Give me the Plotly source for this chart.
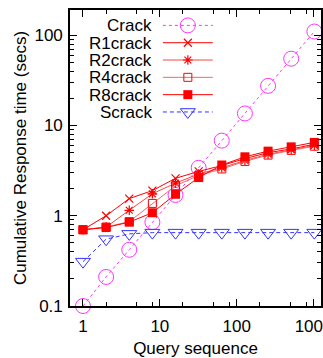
import plotly.graph_objects as go

# ---- data ----
queries = [1, 2, 4, 8, 16, 32, 64, 128, 256, 512, 1024]
crack = [0.1, 0.21, 0.42, 0.85, 1.7, 3.4, 6.8, 13.6, 27.5, 55, 110]
r1crack = [0.70, 1.0, 1.55, 1.9, 2.6, 3.1, 3.6, 4.3, 5.0, 5.5, 6.2]
r2crack = [0.70, 0.75, 1.15, 1.75, 2.3, 2.9, 3.4, 4.1, 4.8, 5.4, 6.0]
r4crack = [0.70, 0.75, 0.86, 1.37, 2.15, 2.8, 3.3, 4.0, 4.7, 5.3, 5.9]
r8crack = [0.70, 0.74, 0.85, 1.08, 1.73, 2.65, 3.65, 4.5, 5.2, 5.8, 6.5]
scrack = [0.31, 0.55, 0.63, 0.65, 0.65, 0.65, 0.65, 0.65, 0.65, 0.65, 0.65]

series_names = ["Crack", "R1crack", "R2crack", "R4crack", "R8crack", "Scrack"]
x_tick_vals = [1, 10, 100, 1000]
x_tick_text = ["1", "10", "100", "1000"]
y_tick_vals = [0.1, 1, 10, 100]
y_tick_text = ["0.1", "1", "10", "100"]
x_minor = [2, 5, 8, 20, 50, 80, 200, 500, 800]
y_minor = [0.2, 0.3, 0.4, 0.5, 0.6, 0.7, 0.8, 0.9,
           2, 3, 4, 5, 6, 7, 8, 9,
           20, 30, 40, 50, 60, 70, 80, 90]

FONT = "Liberation Sans, Arial, Helvetica, sans-serif"
MAG = "#ff33ff"
RED = "#ff0000"
RED2 = "#f04848"
RED4 = "#f06a6a"
BLUE = "#3333ff"

styles = [
    dict(line=dict(color=MAG, width=1, dash="dot"),
         marker=dict(symbol="circle-open", size=15, color=MAG, line=dict(width=1))),
    dict(line=dict(color=RED, width=1),
         marker=dict(symbol="x-thin-open", size=8, color=RED, line=dict(width=1.2, color=RED))),
    dict(line=dict(color=RED2, width=1),
         marker=dict(symbol="asterisk-open", size=8, color=RED, line=dict(width=1.2, color=RED))),
    dict(line=dict(color=RED4, width=1),
         marker=dict(symbol="square-open", size=8, color=RED, line=dict(width=1))),
    dict(line=dict(color=RED, width=1),
         marker=dict(symbol="square", size=9, color=RED, line=dict(width=0))),
    dict(line=dict(color=BLUE, width=1, dash="4px,3px"),
         marker=dict(symbol="triangle-down-open", size=13, color=BLUE, line=dict(width=1))),
]
series = [crack, r1crack, r2crack, r4crack, r8crack, scrack]

fig = go.Figure()
for name, ys, st in zip(series_names, series, styles):
    fig.add_trace(go.Scatter(x=queries, y=ys, mode="lines+markers", name=name,
                             line=st["line"], marker=st["marker"], showlegend=False,
                             xaxis="x", yaxis="y", cliponaxis=False))

# ---- custom legend (text left of sample, like gnuplot) ----
leg_text_x = 0.330
leg_line_x0, leg_line_x1 = 0.370, 0.569
leg_y0 = 0.948
leg_dy = 0.0585
annotations = []
for i, (name, st) in enumerate(zip(series_names, styles)):
    yy = leg_y0 - i * leg_dy
    fig.add_trace(go.Scatter(x=[leg_line_x0, leg_line_x1], y=[yy, yy], mode="lines",
                             line=st["line"], showlegend=False, hoverinfo="skip",
                             xaxis="x2", yaxis="y2"))
    fig.add_trace(go.Scatter(x=[(leg_line_x0 + leg_line_x1) / 2], y=[yy], mode="markers",
                             marker=st["marker"], showlegend=False, hoverinfo="skip",
                             xaxis="x2", yaxis="y2"))
    annotations.append(dict(x=leg_text_x, y=yy, xref="paper", yref="paper", text=name,
                            showarrow=False, xanchor="right", yanchor="middle", borderpad=0,
                            height=16, valign="middle",
                            font=dict(family=FONT, size=17, color="black")))

axis_common = dict(
    showgrid=False, zeroline=False, showline=True, linecolor="black", linewidth=1.6,
    mirror="allticks", ticks="inside", ticklen=7, tickwidth=1, tickcolor="black",
    tickfont=dict(family=FONT, size=17, color="black"), ticklabeloverflow="allow",
    automargin=False,
)

fig.update_layout(
    width=323, height=358,
    margin=dict(l=70, r=1.5, t=9.5, b=51.5),
    paper_bgcolor="white", plot_bgcolor="white",
    font=dict(family=FONT, size=17, color="black"),
    annotations=annotations,
    xaxis=dict(type="log", range=[-0.169, 3.097], tickvals=x_tick_vals, ticktext=x_tick_text,
               ticklabelstandoff=4,
               minor=dict(tickvals=x_minor, ticks="inside", ticklen=4, tickcolor="black", showgrid=False),
               title=dict(text="Query sequence", font=dict(family=FONT, size=17), standoff=8),
               **axis_common),
    yaxis=dict(type="log", range=[-1, 2.28], tickvals=y_tick_vals, ticktext=y_tick_text,
               ticklabelstandoff=2,
               minor=dict(tickvals=y_minor, ticks="inside", ticklen=4, tickcolor="black", showgrid=False),
               title=dict(text="Cumulative Response time (secs)", font=dict(family=FONT, size=17), standoff=3),
               **axis_common),
    xaxis2=dict(range=[0, 1], overlaying="x", visible=False, fixedrange=True),
    yaxis2=dict(range=[0, 1], overlaying="y", visible=False, fixedrange=True),
    showlegend=False,
)

fig.write_html("out.html", config={"displayModeBar": False},
               post_script="document.body.style.margin='0';document.body.style.padding='0';")
